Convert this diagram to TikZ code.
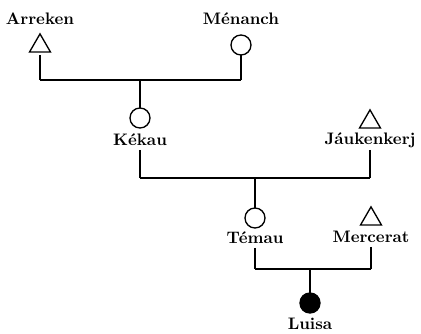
\documentclass[tikz,border=0pt]{standalone}
\usetikzlibrary{shapes.geometric}
\begin{document}
\begin{tikzpicture}[x=0.6pt,y=-0.6pt,
  ln/.style={line width=0.8pt},
  male/.style={draw,line width=0.8pt,regular polygon,regular polygon sides=3,minimum size=14.5pt,inner sep=0pt,outer sep=0pt,anchor=south},
  female/.style={draw,line width=0.8pt,circle,minimum size=12pt,inner sep=0pt,outer sep=0pt},
  ego/.style={female,fill=black},
  lbl/.style={font=\bfseries,inner sep=0pt,outer sep=0pt,text depth=0pt,anchor=base},
  up/.style={ln,shorten <=2.4pt}]
\useasboundingbox (0,0) rectangle (421,334);
% generation 1
\node[lbl] (arrekenN) at (40,25) {Arreken};
\node[male] (arrekenS) at (40,52) {};
\node[lbl] (menanchN) at (241,25) {Ménanch};
\node[female] (menanchS) at (241,45) {};
\coordinate (b1l) at (40,80);
\coordinate (b1r) at (241,80);
\coordinate (b1m) at (140,80);
\draw[ln,shorten <=1.8pt] (arrekenS.south) -- (b1l);
\draw[ln] (menanchS.south) -- (b1r);
\draw[ln] (b1l) -- (b1r);
% generation 2
\node[female] (kekauS) at (140,118) {};
\node[lbl] (kekauN) at (140,146) {Kékau};
\node[male] (jaukS) at (370,128) {};
\node[lbl] (jaukN) at (370,145) {Jáukenkerj};
\draw[ln] (b1m) -- (kekauS.north);
\coordinate (b2l) at (140,178);
\coordinate (b2r) at (370,178);
\coordinate (b2m) at (255,178);
\draw[up] (kekauN.south) -- (b2l);
\draw[ln,shorten <=3pt] (jaukN.south) -- (b2r);
\draw[ln] (b2l) -- (b2r);
% generation 3
\node[female] (temauS) at (255,218) {};
\node[lbl] (temauN) at (255,244) {Témau};
\node[male] (mercS) at (371,225) {};
\node[lbl] (mercN) at (371,243) {Mercerat};
\draw[ln] (b2m) -- (temauS.north);
\coordinate (b3l) at (255,269);
\coordinate (b3r) at (371,269);
\coordinate (b3m) at (310,269);
\draw[up] (temauN.south) -- (b3l);
\draw[up] (mercN.south) -- (b3r);
\draw[ln] (b3l) -- (b3r);
% ego
\node[ego] (luisaS) at (310,303) {};
\node[lbl] (luisaN) at (310,330) {Luisa};
\draw[ln] (b3m) -- (luisaS.north);
\end{tikzpicture}
\end{document}
